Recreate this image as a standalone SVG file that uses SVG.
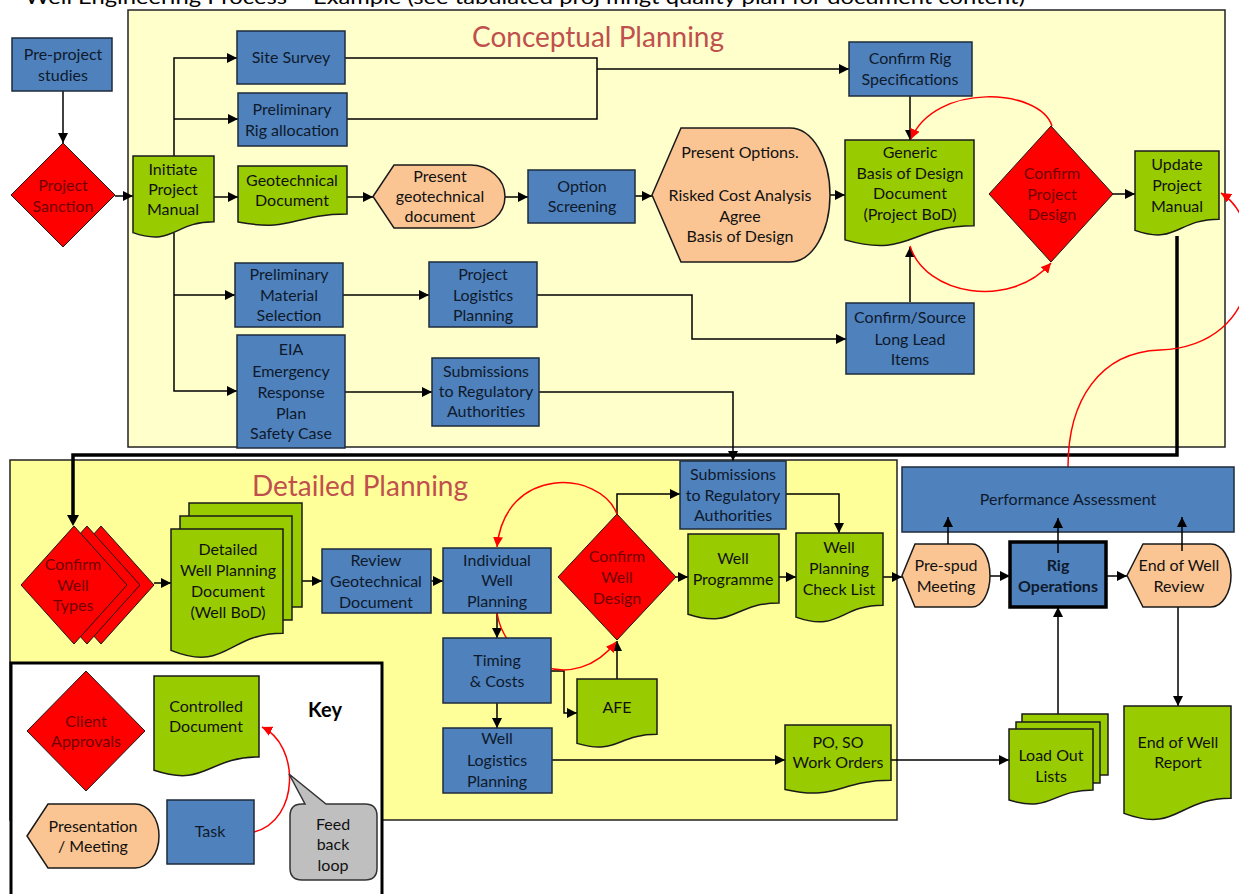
<svg xmlns="http://www.w3.org/2000/svg" width="1239" height="894" viewBox="0 0 1239 894">
<defs>
<style>
.blue{fill:#4F81BD;stroke:#1E2B3C;stroke-width:1.5}
.green{fill:#99CC00;stroke:#1a1a1a;stroke-width:1.5}
.red{fill:#FF0000;stroke:#1a1a1a;stroke-width:1}
.peach{fill:#FBC593;stroke:#1a1a1a;stroke-width:1.5}
.t{font-family:Lato,"Liberation Sans",sans-serif;font-size:16px;text-anchor:middle}
.tb{fill:#0E1A2B}
.tg{fill:#111111}
.tr{fill:#700000}
.title{font-family:Lato,"Liberation Sans",sans-serif;font-size:28px;fill:#C0504D;text-anchor:middle}
.c{fill:none;stroke:#000;stroke-width:1.5;marker-end:url(#ah)}
.cn{fill:none;stroke:#000;stroke-width:1.5}
.rc{fill:none;stroke:#FF0000;stroke-width:1.5;marker-end:url(#rah)}
</style>
<marker id="ah" markerUnits="userSpaceOnUse" markerWidth="10" markerHeight="10" refX="10" refY="5" orient="auto"><path d="M0,0 L10,5 L0,10 Z" fill="#000"/></marker>
<marker id="rah" markerUnits="userSpaceOnUse" markerWidth="10" markerHeight="10" refX="10" refY="5" orient="auto"><path d="M0,0 L10,5 L0,10 Z" fill="#FF0000"/></marker>
</defs>
<rect width="1239" height="894" fill="#fff"/>
<text x="25" y="3.5" font-family="Lato,'Liberation Sans',sans-serif" font-size="19" fill="#000" textLength="1000" lengthAdjust="spacingAndGlyphs">Well Engineering Process – Example (see tabulated proj mngt quality plan for document content)</text>

<g id="conceptual-planning">
<rect x="128" y="10" width="1097" height="437" fill="#FFFFCC" stroke="#222" stroke-width="1.5"/>
<text class="title" x="598" y="47">Conceptual Planning</text>
</g>
<g id="detailed-planning">
<rect x="10" y="460" width="887" height="360" fill="#FFFF99" stroke="#222" stroke-width="1.5"/>
<text class="title" x="360" y="496">Detailed Planning</text>
</g>
<g id="key">
<rect x="11" y="663" width="371" height="240" fill="#fff" stroke="#000" stroke-width="3"/>
</g>

<g id="connectors">
<path class="c" d="M63,91 V143"/>
<path class="c" d="M115,196 H133"/>
<path class="c" d="M174,156 V58 H237"/>
<path class="c" d="M174,119 H238"/>
<path class="c" d="M174,233 V391 H237"/>
<path class="c" d="M174,295 H235"/>
<path class="c" d="M214,197 H238"/>
<path class="c" d="M347,197 H373"/>
<path class="c" d="M505,197 H528"/>
<path class="c" d="M635,196 H652"/>
<path class="c" d="M830,195 H845"/>
<path class="cn" d="M345,58 H597 V119 H347"/>
<path class="c" d="M597,69 H849"/>
<path class="c" d="M910,96 V140"/>
<path class="c" d="M910,302 V247"/>
<path class="c" d="M1113,194 H1135"/>
<path class="c" d="M343,295 H429"/>
<path class="c" d="M537,295 H692 V339 H846"/>
<path class="c" d="M345,392 H432"/>
<path class="c" d="M539,392 H733 V461"/>
<path fill="none" stroke="#000" stroke-width="3.5" d="M1177,236 V455 H73 V516"/>
<path d="M67,515 L79,515 L73,526 Z" fill="#000"/>
<path class="c" d="M154,583 H171"/>
<path class="c" d="M302,581 H322"/>
<path class="c" d="M431,581 H443"/>
<path class="c" d="M617,514 V494 H680"/>
<path class="c" d="M676,577 H688"/>
<path class="c" d="M786,494 H839 V533"/>
<path class="c" d="M779,577 H796"/>
<path class="c" d="M883,577 H902"/>
<path class="c" d="M990,576 H1010"/>
<path class="c" d="M1106,576 H1127"/>
<path class="c" d="M497,613 V638"/>
<path class="c" d="M497,703 V728"/>
<path class="c" d="M551,671 H564 V713 H577"/>
<path class="c" d="M617,679 V641"/>
<path class="c" d="M552,760 H785"/>
<path class="c" d="M891,760 H1009"/>
<path class="c" d="M1058,714 V607"/>
<path class="c" d="M1178,607 V706"/>
<path class="rc" d="M1052,126 C1040,88 935,82 911,139"/>
<path class="rc" d="M910,246 C925,295 1010,310 1051,263"/>
<path class="rc" d="M1068,467 C1068,400 1100,352 1160,350 C1210,348 1245,320 1250,270 C1252,230 1240,205 1221,193"/>
<path class="rc" d="M617,514 C600,470 505,465 497,547"/>
<path class="rc" d="M497,613 C505,665 575,695 616,642"/>
<path class="rc" d="M254,832 C300,820 300,745 262,727"/>
</g>

<g id="pre-project-studies"><rect class="blue" x="12" y="38" width="100" height="53"/><text class="t tb" x="63" y="60">Pre-project</text><text class="t tb" x="63" y="81">studies</text></g>
<g id="project-sanction"><path class="red" d="M63,143 L115,195 L63,247 L11,195 Z"/><text class="t tr" x="63" y="191">Project</text><text class="t tr" x="63" y="212">Sanction</text></g>
<g id="initiate-project-manual"><path class="green" d="M133,156 H214 V221.8 C173.5,221.8 173.5,246.8 133,232.6 Z"/><text class="t tg" x="173" y="175">Initiate</text><text class="t tg" x="173" y="195">Project</text><text class="t tg" x="173" y="215">Manual</text></g>
<g id="site-survey"><rect class="blue" x="237" y="31" width="108" height="53"/><text class="t tb" x="291" y="63">Site Survey</text></g>
<g id="preliminary-rig-allocation"><rect class="blue" x="238" y="93" width="109" height="53"/><text class="t tb" x="292" y="115">Preliminary</text><text class="t tb" x="292" y="136">Rig allocation</text></g>
<g id="geotechnical-document"><path class="green" d="M238,166 H347 V214.1 C292.5,214.1 292.5,232.4 238,222 Z"/><text class="t tg" x="292" y="186">Geotechnical</text><text class="t tg" x="292" y="206">Document</text></g>
<g id="present-geotechnical-document"><path class="peach" d="M373,196.5 L394,165 H470 A35,31.5 0 0 1 470,228 H394 Z"/><text class="t tg" x="440" y="182">Present</text><text class="t tg" x="440" y="202">geotechnical</text><text class="t tg" x="440" y="222">document</text></g>
<g id="option-screening"><rect class="blue" x="528" y="170" width="107" height="53"/><text class="t tb" x="582" y="192">Option</text><text class="t tb" x="582" y="212">Screening</text></g>
<g id="present-options"><path class="peach" d="M652,195 L681,128 H790 A40,67 0 0 1 790,262 H681 Z"/><text class="t tg" x="740" y="158">Present Options.</text><text class="t tg" x="740" y="201">Risked Cost Analysis</text><text class="t tg" x="740" y="222">Agree</text><text class="t tg" x="740" y="242">Basis of Design</text></g>
<g id="confirm-rig-specifications"><rect class="blue" x="849" y="42" width="123" height="54"/><text class="t tb" x="910" y="64">Confirm Rig</text><text class="t tb" x="910" y="85">Specifications</text></g>
<g id="generic-bod"><path class="green" d="M845,140 H974 V225.8 C909.5,225.8 909.5,258.4 845,239.9 Z"/><text class="t tg" x="910" y="158">Generic</text><text class="t tg" x="910" y="179">Basis of Design</text><text class="t tg" x="910" y="199">Document</text><text class="t tg" x="910" y="220">(Project BoD)</text></g>
<g id="confirm-project-design"><path class="red" d="M1051,126 L1113,194 L1051,262 L989,194 Z"/><text class="t tr" x="1052" y="179">Confirm</text><text class="t tr" x="1052" y="200">Project</text><text class="t tr" x="1052" y="220">Design</text></g>
<g id="update-project-manual"><path class="green" d="M1135,151 H1219 V219.2 C1177,219.2 1177,245.1 1135,230.4 Z"/><text class="t tg" x="1177" y="170">Update</text><text class="t tg" x="1177" y="191">Project</text><text class="t tg" x="1177" y="212">Manual</text></g>
<g id="preliminary-material-selection"><rect class="blue" x="235" y="263" width="108" height="64"/><text class="t tb" x="289" y="280">Preliminary</text><text class="t tb" x="289" y="301">Material</text><text class="t tb" x="289" y="321">Selection</text></g>
<g id="project-logistics-planning"><rect class="blue" x="429" y="262" width="108" height="65"/><text class="t tb" x="483" y="280">Project</text><text class="t tb" x="483" y="301">Logistics</text><text class="t tb" x="483" y="321">Planning</text></g>
<g id="confirm-source-long-lead-items"><rect class="blue" x="846" y="303" width="128" height="71"/><text class="t tb" x="910" y="323">Confirm/Source</text><text class="t tb" x="910" y="345">Long Lead</text><text class="t tb" x="910" y="365">Items</text></g>
<g id="eia"><rect class="blue" x="237" y="335" width="108" height="113"/><text class="t tb" x="291" y="355">EIA</text><text class="t tb" x="291" y="377">Emergency</text><text class="t tb" x="291" y="398">Response</text><text class="t tb" x="291" y="419">Plan</text><text class="t tb" x="291" y="439">Safety Case</text></g>
<g id="submissions-upper"><rect class="blue" x="432" y="358" width="107" height="68"/><text class="t tb" x="486" y="377">Submissions</text><text class="t tb" x="486" y="397">to Regulatory</text><text class="t tb" x="486" y="417">Authorities</text></g>

<g id="submissions-lower"><rect class="blue" x="680" y="461" width="106" height="68"/><text class="t tb" x="733" y="480">Submissions</text><text class="t tb" x="733" y="501">to Regulatory</text><text class="t tb" x="733" y="521">Authorities</text></g>
<g id="confirm-well-types"><path class="red" d="M101,526 L154,585 L101,644 L48,585 Z"/><path class="red" d="M87,526 L140,585 L87,644 L34,585 Z"/><path class="red" d="M74,526 L127,585 L74,644 L21,585 Z"/><text class="t tr" x="73" y="570">Confirm</text><text class="t tr" x="73" y="591">Well</text><text class="t tr" x="73" y="611">Types</text></g>
<g id="detailed-well-planning-document"><rect class="green" x="189" y="503" width="113" height="104"/><rect class="green" x="180" y="516" width="112" height="104"/><path class="green" d="M171,529 H283 V633.3 C227,633.3 227,672.9 171,650.4 Z"/><text class="t tg" x="228" y="555">Detailed</text><text class="t tg" x="228" y="576">Well Planning</text><text class="t tg" x="228" y="597">Document</text><text class="t tg" x="228" y="618">(Well BoD)</text></g>
<g id="review-geotechnical-document"><rect class="blue" x="322" y="549" width="109" height="64"/><text class="t tb" x="376" y="566">Review</text><text class="t tb" x="376" y="587">Geotechnical</text><text class="t tb" x="376" y="608">Document</text></g>
<g id="individual-well-planning"><rect class="blue" x="443" y="548" width="108" height="65"/><text class="t tb" x="497" y="566">Individual</text><text class="t tb" x="497" y="586">Well</text><text class="t tb" x="497" y="607">Planning</text></g>
<g id="confirm-well-design"><path class="red" d="M617,514 L676,577 L617,640 L558,577 Z"/><text class="t tr" x="617" y="562">Confirm</text><text class="t tr" x="617" y="583">Well</text><text class="t tr" x="617" y="604">Design</text></g>
<g id="well-programme"><path class="green" d="M688,534 H779 V603 C733.5,603 733.5,629.2 688,614.3 Z"/><text class="t tg" x="733" y="564">Well</text><text class="t tg" x="733" y="585">Programme</text></g>
<g id="well-planning-check-list"><path class="green" d="M796,533 H883 V605.2 C839.5,605.2 839.5,632.6 796,617.1 Z"/><text class="t tg" x="839" y="553">Well</text><text class="t tg" x="839" y="574">Planning</text><text class="t tg" x="839" y="595">Check List</text></g>
<g id="timing-costs"><rect class="blue" x="443" y="638" width="108" height="65"/><text class="t tb" x="497" y="666">Timing</text><text class="t tb" x="497" y="687">&amp; Costs</text></g>
<g id="afe"><path class="green" d="M577,679 H657 V734.3 C617,734.3 617,755.4 577,743.4 Z"/><text class="t tg" x="617" y="713">AFE</text></g>
<g id="well-logistics-planning"><rect class="blue" x="443" y="728" width="109" height="65"/><text class="t tb" x="497" y="744">Well</text><text class="t tb" x="497" y="766">Logistics</text><text class="t tb" x="497" y="787">Planning</text></g>
<g id="po-so-work-orders"><path class="green" d="M785,725 H891 V780.3 C838,780.3 838,801.4 785,789.4 Z"/><text class="t tg" x="838" y="748">PO, SO</text><text class="t tg" x="838" y="768">Work Orders</text></g>

<g id="performance-assessment"><rect class="blue" x="902" y="467" width="332" height="65"/><text class="t tb" x="1068" y="505">Performance Assessment</text></g>
<g id="pre-spud-meeting"><path class="peach" d="M902,575.5 L915,544 H972 A18,31.5 0 0 1 972,607 H915 Z"/><text class="t tg" x="946" y="571">Pre-spud</text><text class="t tg" x="946" y="592">Meeting</text></g>
<g id="rig-operations"><rect fill="#4F81BD" stroke="#000" stroke-width="3.5" x="1010" y="542" width="96" height="65"/><text class="t tb" x="1058" y="571" font-weight="bold">Rig</text><text class="t tb" x="1058" y="592" font-weight="bold">Operations</text></g>
<g id="end-of-well-review"><path class="peach" d="M1127,575.5 L1143,544 H1211 A20,31.5 0 0 1 1211,607 H1143 Z"/><text class="t tg" x="1179" y="571">End of Well</text><text class="t tg" x="1179" y="592">Review</text></g>
<g id="load-out-lists"><rect class="green" x="1022" y="714" width="86" height="61"/><rect class="green" x="1016" y="722" width="84" height="61"/><path class="green" d="M1009,729 H1093 V790 C1051,790 1051,813.1 1009,800 Z"/><text class="t tg" x="1051" y="761">Load Out</text><text class="t tg" x="1051" y="782">Lists</text></g>
<g id="end-of-well-report"><path class="green" d="M1124,706 H1231 V798.2 C1177.5,798.2 1177.5,833.3 1124,813.4 Z"/><text class="t tg" x="1178" y="748">End of Well</text><text class="t tg" x="1178" y="768">Report</text></g>
<g id="perf-arrows"><path class="c" d="M948,544 V517"/><path class="c" d="M1058,553 V518"/><path class="c" d="M1182,551 V517"/></g>

<g id="key-client-approvals"><path class="red" d="M86,671 L145,731 L86,791 L27,731 Z"/><text class="t tr" x="86" y="727">Client</text><text class="t tr" x="86" y="747">Approvals</text></g>
<g id="key-controlled-document"><path class="green" d="M154,676 H259 V757 C206.5,757 206.5,787.8 154,770.3 Z"/><text class="t tg" x="206" y="712">Controlled</text><text class="t tg" x="206" y="732">Document</text></g>
<g id="key-label"><text x="325" y="717" font-family="Lato,'Liberation Sans',sans-serif" font-size="20" font-weight="bold" text-anchor="middle" fill="#000">Key</text></g>
<g id="key-presentation-meeting"><path class="peach" d="M27,836 L48,804 H135 A24,32 0 0 1 135,868 H48 Z"/><text class="t tg" x="93" y="832">Presentation</text><text class="t tg" x="93" y="852">/ Meeting</text></g>
<g id="key-task"><rect class="blue" x="167" y="800" width="87" height="64"/><text class="t tb" x="210" y="837">Task</text></g>
<g id="key-feedback-loop"><path fill="#BFBFBF" stroke="#333" stroke-width="1.5" d="M302,804 H305 L289,774 L326,804 H365 Q377,804 377,816 V868 Q377,880 365,880 H302 Q290,880 290,868 V816 Q290,804 302,804 Z"/><text class="t tg" x="333" y="830">Feed</text><text class="t tg" x="333" y="850">back</text><text class="t tg" x="333" y="871">loop</text></g>
</svg>
